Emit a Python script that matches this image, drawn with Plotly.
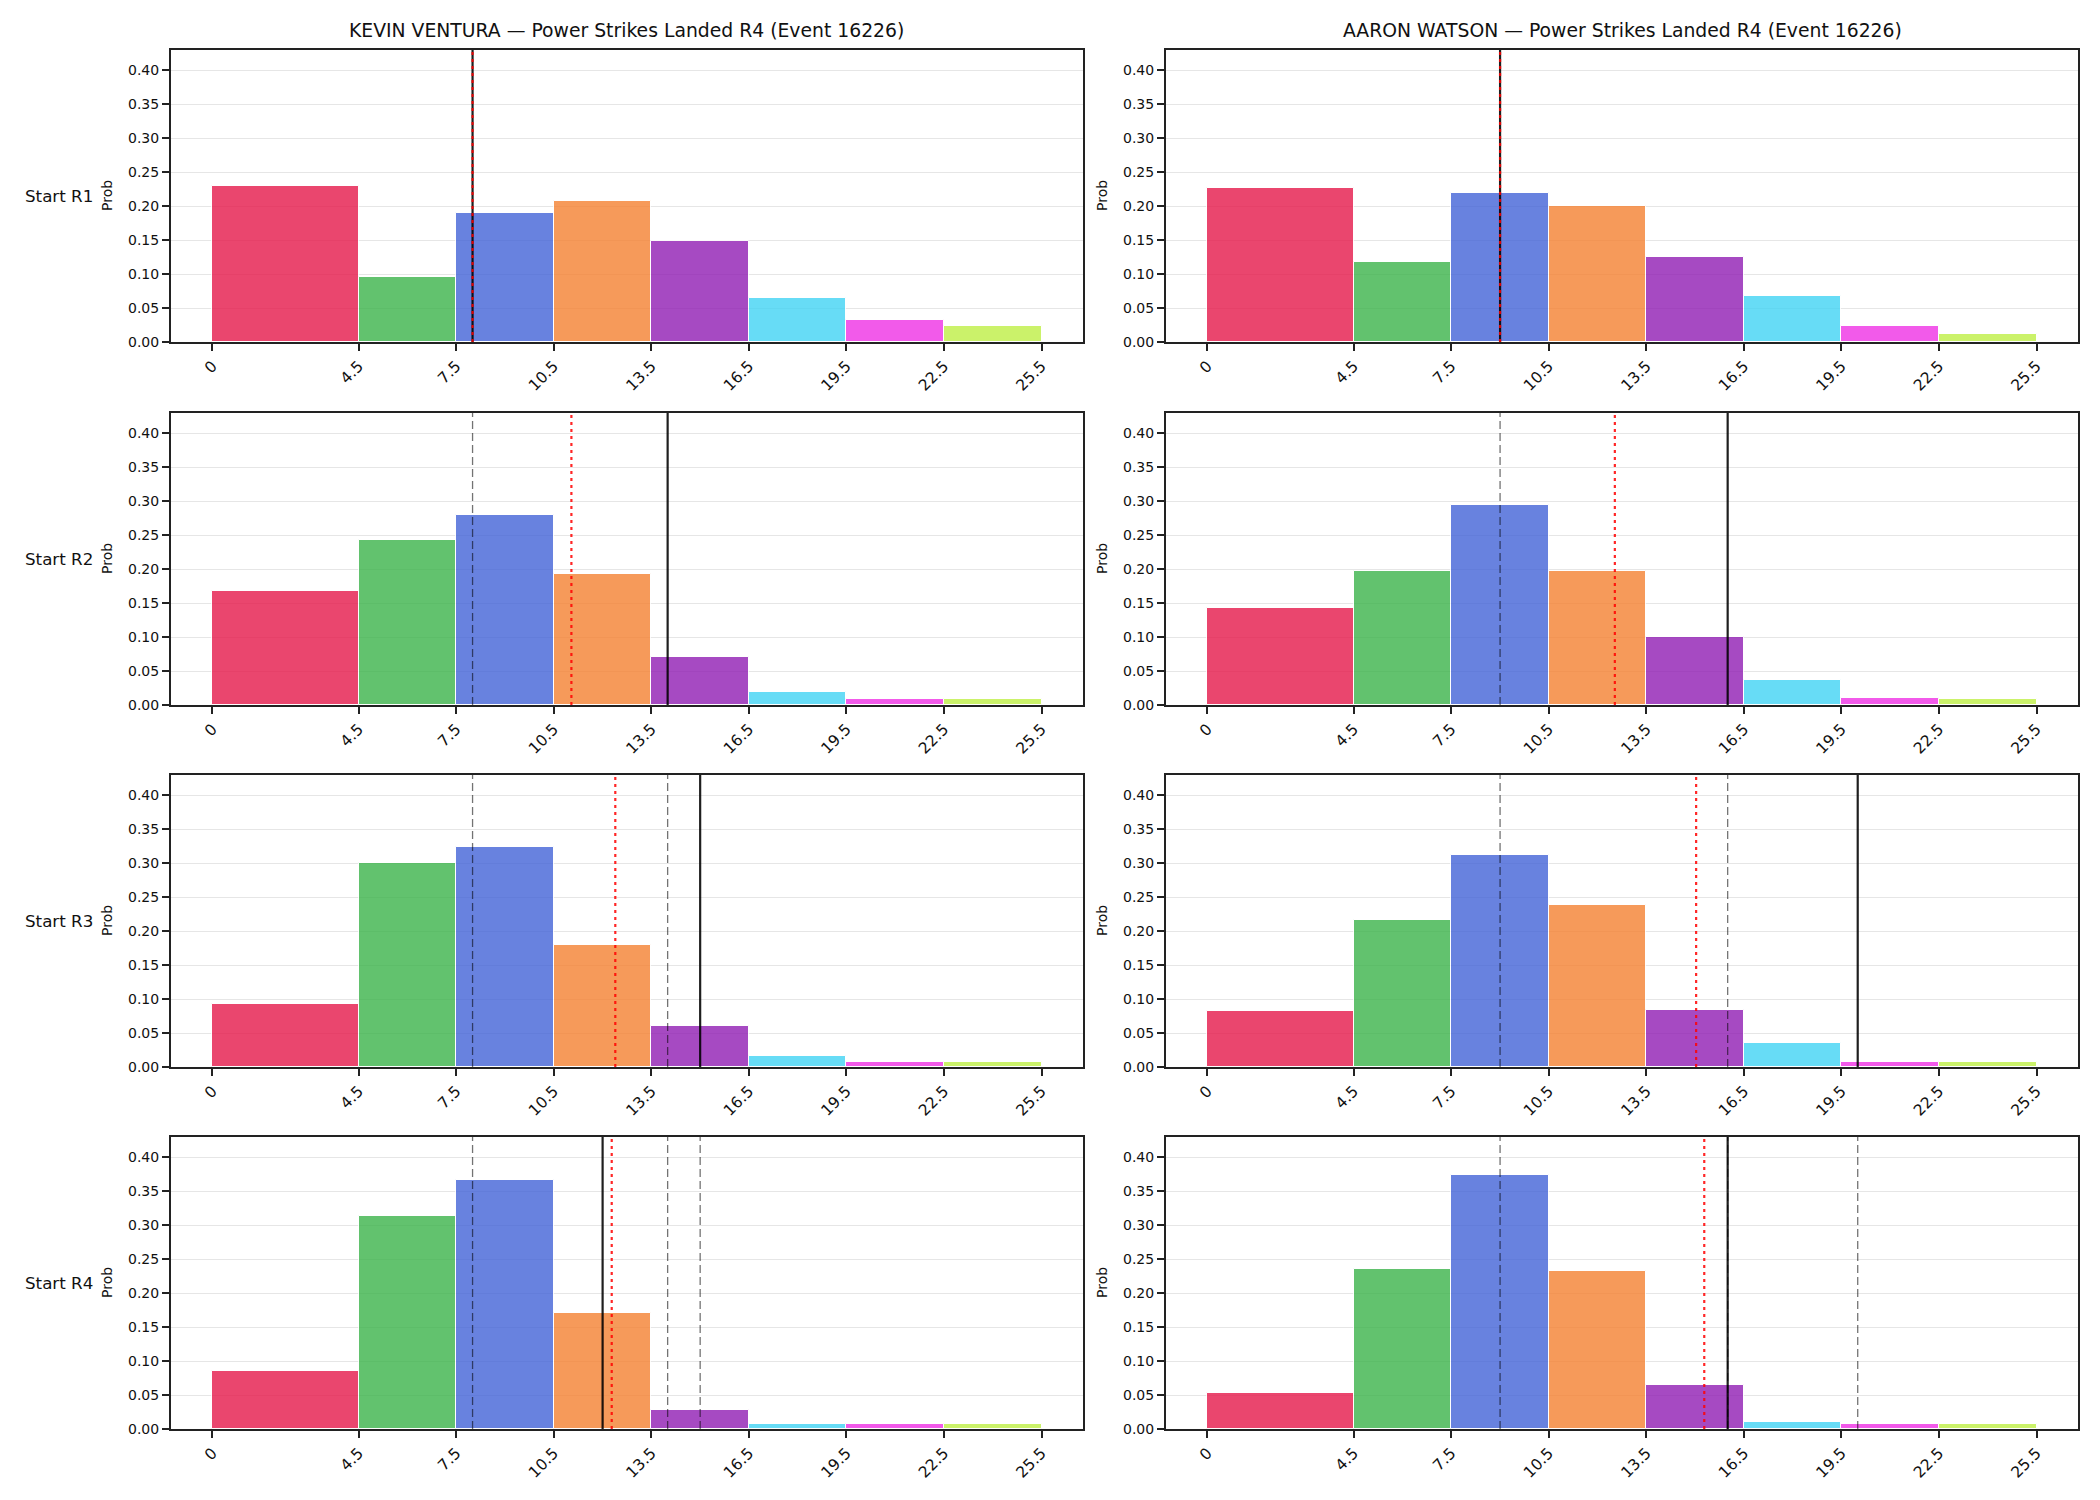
import plotly.graph_objects as go
from plotly.subplots import make_subplots

# ---- data ----
bin_edges = [0, 4.5, 7.5, 10.5, 13.5, 16.5, 19.5, 22.5, 25.5]
tick_labels = ["0", "4.5", "7.5", "10.5", "13.5", "16.5", "19.5", "22.5", "25.5"]
bin_colors = ["#e6194B", "#3cb44b", "#4363d8", "#f58231", "#911eb4", "#42d4f4", "#f032e6", "#bfef45"]

fighters = ["KEVIN VENTURA", "AARON WATSON"]
row_labels = ["Start R1", "Start R2", "Start R3", "Start R4"]

kevin_probs = [
    [0.229, 0.095, 0.190, 0.207, 0.148, 0.065, 0.032, 0.024],
    [0.168, 0.242, 0.279, 0.192, 0.070, 0.019, 0.009, 0.009],
    [0.093, 0.300, 0.323, 0.179, 0.061, 0.016, 0.008, 0.008],
    [0.085, 0.314, 0.366, 0.171, 0.028, 0.008, 0.008, 0.008],
]
aaron_probs = [
    [0.226, 0.118, 0.219, 0.200, 0.125, 0.067, 0.024, 0.012],
    [0.143, 0.197, 0.294, 0.197, 0.100, 0.037, 0.010, 0.009],
    [0.083, 0.216, 0.312, 0.238, 0.084, 0.035, 0.008, 0.008],
    [0.053, 0.236, 0.374, 0.232, 0.064, 0.010, 0.008, 0.008],
]
# solid black line per row (current), red dotted line per row (mean)
kevin_lines = [8, 14, 15, 12]
kevin_means = [8.0, 11.04, 12.39, 12.28]
aaron_lines = [9, 16, 20, 16]
aaron_means = [9.0, 12.53, 15.03, 15.28]

probs = [kevin_probs, aaron_probs]
lines = [kevin_lines, aaron_lines]
means = [kevin_means, aaron_means]

W, H = 2100, 1500
FONT = "DejaVu Sans"
INK = "#222222"

fig = make_subplots(rows=4, cols=2)

centers = [(bin_edges[i] + bin_edges[i + 1]) / 2 for i in range(len(bin_edges) - 1)]
widths = [bin_edges[i + 1] - bin_edges[i] for i in range(len(bin_edges) - 1)]

x_dom = [[171 / W, 1083 / W], [1166 / W, 2078 / W]]
row_tops = [50, 413, 775, 1137]
row_h = 292
ymax = 0.4295

for c in range(2):
    for r in range(4):
        fig.add_trace(go.Bar(
            x=centers, y=probs[c][r], width=widths,
            marker=dict(color=bin_colors, line=dict(color="white", width=1)),
            opacity=0.8, showlegend=False, hoverinfo="x+y",
        ), row=r + 1, col=c + 1)

        idx = r * 2 + c + 1
        xn = "x" if idx == 1 else f"x{idx}"
        yn = "y" if idx == 1 else f"y{idx}"
        # previous rows' lines (dashed)
        for pr in range(r):
            fig.add_shape(type="line", xref=xn, yref=f"{yn} domain",
                          x0=lines[c][pr], x1=lines[c][pr], y0=0, y1=1,
                          line=dict(color="rgba(0,0,0,0.55)", width=1.3, dash="8px,4px"))
        fig.add_shape(type="line", xref=xn, yref=f"{yn} domain",
                      x0=lines[c][r], x1=lines[c][r], y0=0, y1=1,
                      line=dict(color="rgba(0,0,0,0.88)", width=2.2))
        fig.add_shape(type="line", xref=xn, yref=f"{yn} domain",
                      x0=means[c][r], x1=means[c][r], y0=0, y1=1,
                      line=dict(color="rgba(255,0,0,0.85)", width=2.2, dash="3px,4px"))

        top = row_tops[r]
        ydom = [1 - (top + row_h) / H, 1 - top / H]
        fig.update_xaxes(
            domain=x_dom[c], range=[-1.275, 26.775], automargin=False,
            tickmode="array", tickvals=bin_edges, ticktext=tick_labels,
            tickangle=-45, ticks="outside", ticklen=7, tickwidth=1.5, tickcolor=INK,
            showline=True, mirror=True, linecolor=INK, linewidth=2,
            showgrid=False, zeroline=False,
            tickfont=dict(family=FONT, size=15.5, color="#111"),
            row=r + 1, col=c + 1)
        fig.update_yaxes(
            domain=ydom, range=[0, ymax], automargin=False,
            tickmode="linear", tick0=0, dtick=0.05, tickformat=".2f",
            ticks="outside", ticklen=7, tickwidth=1.5, tickcolor=INK,
            showline=True, mirror=True, linecolor=INK, linewidth=2,
            showgrid=True, gridcolor="#e6e6e6", gridwidth=1, zeroline=False,
            tickfont=dict(family=FONT, size=14, color="#111"),
            row=r + 1, col=c + 1)

        # "Prob" y label
        ylab_x = [107, 1102][c]
        fig.add_annotation(xref="paper", yref="paper", x=ylab_x / W,
                           y=1 - (top + row_h / 2) / H, text="Prob", textangle=-90,
                           showarrow=False, xanchor="center", yanchor="middle",
                           font=dict(family=FONT, size=14, color="#111"))
        if c == 0:
            fig.add_annotation(xref="paper", yref="paper", x=23 / W,
                               y=1 - (top + row_h / 2) / H, text=row_labels[r],
                               showarrow=False, xanchor="left", yanchor="middle",
                               font=dict(family=FONT, size=16.7, color="#111"))

for c in range(2):
    fig.add_annotation(xref="paper", yref="paper",
                       x=(x_dom[c][0] + x_dom[c][1]) / 2, y=1 - 30 / H,
                       text=f"{fighters[c]} \u2014 Power Strikes Landed R4 (Event 16226)",
                       showarrow=False, xanchor="center", yanchor="middle",
                       font=dict(family=FONT, size=18.8, color="#111"))

fig.update_layout(
    width=W, height=H, margin=dict(l=0, r=0, t=0, b=0, autoexpand=False),
    paper_bgcolor="white", plot_bgcolor="white",
    bargap=0, showlegend=False, font=dict(family=FONT),
)

fig.write_html("out.html")
